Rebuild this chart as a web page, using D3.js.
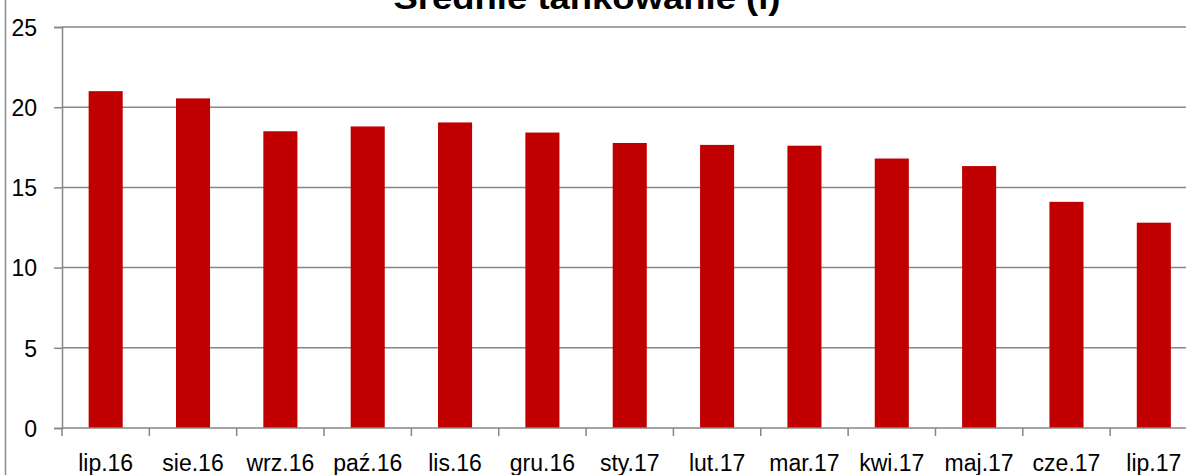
<!DOCTYPE html>
<html>
<head>
<meta charset="utf-8">
<script src="https://cdn.jsdelivr.net/npm/d3@7"></script>
<style>
  body { margin: 0; background: #fff; }
  text { font-family: "Liberation Sans", Arial, sans-serif; fill: #000; }
</style>
</head>
<body>
<div id="chart"></div>
<script>
// months and average refuel volume (litres)
const months = ["lip.16", "sie.16", "wrz.16", "paź.16", "lis.16", "gru.16",
    "sty.17", "lut.17", "mar.17", "kwi.17", "maj.17", "cze.17", "lip.17"];
const litres = [21.0, 20.55, 18.5, 18.8, 19.05, 18.42, 17.77, 17.65, 17.6, 16.8, 16.33, 14.1, 12.8];
const yTicks = [0, 5, 10, 15, 20, 25];
const chartTitle = "Średnie tankowanie (l)";

const width = 1186, height = 475;
const margin = {left: 62, right: 1197.5, top: 27, bottom: 428};

let svg = d3.select("#chart")
    .append("svg")
    .attr("width", width)
    .attr("height", height);

let x = d3.scaleBand()
    .domain(months)
    .range([margin.left, margin.right])
    .paddingInner(0.61)
    .paddingOuter(0.305);

let y = d3.scaleLinear()
    .domain([0, 25])
    .range([margin.bottom, margin.top]);

// outer chart border (only left edge is visible)
svg.append("line")
    .attr("x1", 5.5).attr("x2", 5.5)
    .attr("y1", 0).attr("y2", height)
    .attr("stroke", "#8c8c8c")
    .attr("stroke-width", 1.5);

// gridlines
svg.append("g")
    .selectAll("line")
    .data(yTicks.filter(d => d > 0))
    .enter()
    .append("line")
    .attr("x1", margin.left).attr("x2", width)
    .attr("y1", d => y(d)).attr("y2", d => y(d))
    .attr("stroke", "#868686")
    .attr("stroke-width", 1.5);

// bars
svg.append("g")
    .selectAll("rect")
    .data(litres)
    .enter()
    .append("rect")
    .attr("x", (d, i) => x(months[i]))
    .attr("y", d => y(d))
    .attr("width", x.bandwidth())
    .attr("height", d => y(0) - y(d))
    .attr("fill", "#c00000");

// y axis
let yAxis = svg.append("g")
    .attr("transform", `translate(${margin.left}, 0)`)
    .call(d3.axisLeft(y).tickValues(yTicks).tickSize(8).tickPadding(17));
yAxis.select(".domain").attr("stroke", "#868686").attr("stroke-width", 1.5);
yAxis.selectAll(".tick line").attr("stroke", "#868686").attr("stroke-width", 1.5);
yAxis.selectAll(".tick text")
    .style("font-size", "23px")
    .style("font-family", "'Liberation Sans', Arial, sans-serif")
    .attr("dy", "0.36em");

// x axis, ticks between categories
let step = x.step();
let xb = svg.append("g");
xb.append("line")
    .attr("x1", margin.left).attr("x2", width)
    .attr("y1", margin.bottom).attr("y2", margin.bottom)
    .attr("stroke", "#868686")
    .attr("stroke-width", 1.5);
xb.selectAll(".tk")
    .data(d3.range(months.length + 1))
    .enter()
    .append("line")
    .attr("class", "tk")
    .attr("x1", i => margin.left + i * step).attr("x2", i => margin.left + i * step)
    .attr("y1", margin.bottom).attr("y2", margin.bottom + 8)
    .attr("stroke", "#868686")
    .attr("stroke-width", 1.5);
xb.selectAll("text")
    .data(months)
    .enter()
    .append("text")
    .attr("x", d => x(d) + x.bandwidth() / 2)
    .attr("y", 471)
    .style("text-anchor", "middle")
    .style("font-size", "23px")
    .text(d => d);

// title, cut off at the top edge
svg.append("text")
    .attr("x", 587)
    .attr("y", 9)
    .style("text-anchor", "middle")
    .style("font-size", "32px")
    .style("font-weight", "bold")
    .attr("textLength", 387)
    .attr("lengthAdjust", "spacingAndGlyphs")
    .text(chartTitle);
</script>
</body>
</html>
